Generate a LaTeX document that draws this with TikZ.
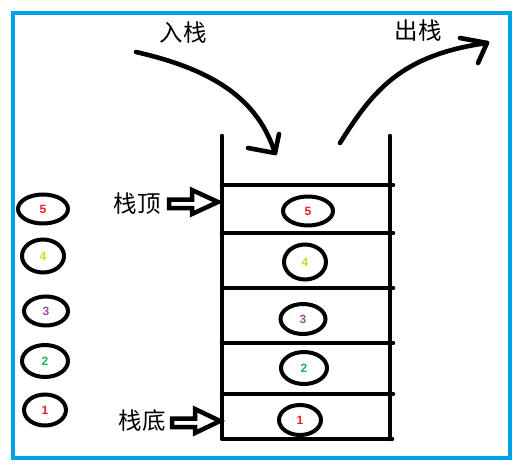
\documentclass[tikz,border=0pt]{standalone}
\usetikzlibrary{shapes.geometric}
\usepackage{fontspec}
\newfontfamily\cjk{Noto Sans CJK SC}
\setmainfont{Liberation Sans}
\definecolor{frameblue}{RGB}{0,162,232}
\definecolor{cred}{RGB}{237,28,36}
\definecolor{cyel}{RGB}{181,230,29}
\definecolor{cpur}{RGB}{163,73,164}
\definecolor{cgrn}{RGB}{34,177,76}
\begin{document}
\begin{tikzpicture}[x=1pt,y=-1pt,
  thk/.style={line width=4.6pt,line cap=round,line join=round},
  ball/.style={draw,line width=4pt,ellipse,inner sep=0pt,font=\bfseries\fontsize{12}{12}\selectfont},
  lbl/.style={font=\cjk\fontsize{23.5}{23.5}\selectfont,inner sep=0pt},
  blk/.style={draw,line width=4.5pt,line join=miter,fill=white}]
\useasboundingbox (0,0) rectangle (524,473);
\draw[frameblue,line width=4pt] (13,13) rectangle (510,458);
% stack
\coordinate (tl) at (222,136); \coordinate (tr) at (390,136);
\coordinate (bl) at (222,439); \coordinate (br) at (392,439);
\draw[thk] (tl) -- (bl) -- (br);
\draw[thk] (tr) -- (390,439);
\foreach \y in {185,233,288,343,394}{\draw[thk] (222,\y) -- (393,\y);}
% stack balls
\node[ball,minimum width=50,minimum height=29,text=cred] (s5) at (308,211) {5};
\node[ball,minimum width=42,minimum height=35,text=cyel] (s4) at (305,262) {4};
\node[ball,minimum width=45,minimum height=30,text=cpur] (s3) at (303,319) {3};
\node[ball,minimum width=46,minimum height=32,text=cgrn] (s2) at (304,368) {2};
\node[ball,minimum width=42,minimum height=30,text=cred] (s1) at (300,420) {1};
% left balls
\node[ball,minimum width=50,minimum height=29,text=cred] (l5) at (43,209) {5};
\node[ball,minimum width=42,minimum height=33,text=cyel] (l4) at (43,256) {4};
\node[ball,minimum width=44,minimum height=29,text=cpur] (l3) at (46,311) {3};
\node[ball,minimum width=46,minimum height=32,text=cgrn] (l2) at (45,361) {2};
\node[ball,minimum width=42,minimum height=31,text=cred] (l1) at (45,410) {1};
% labels
\node[lbl] (in) at (183,33) {入栈};
\node[lbl] (out) at (418,31) {出栈};
\node[lbl] (top) at (137,204) {栈顶};
\node[lbl] (bot) at (142,421) {栈底};
% block arrows
\draw[blk] (169,199.5) -- (192,199.5) -- (192,190) -- (218,202) -- (192,214) -- (192,208) -- (169,208) -- cycle;
\draw[blk] (172,418.5) -- (195,418.5) -- (195,409) -- (220,421) -- (195,433) -- (195,427) -- (172,427) -- cycle;
% curved arrows
\coordinate (a1) at (136,52); \coordinate (a2) at (275,153);
\draw[thk] (a1) .. controls (215,70) and (258,100) .. (a2);
\draw[thk] (248,148) -- (a2) -- (279,134);
\coordinate (b1) at (340,143); \coordinate (b2) at (487,43);
\draw[thk] (b1) .. controls (372,92) and (400,55) .. (b2);
\draw[thk] (460,38) -- (b2) -- (478,63);
\end{tikzpicture}
\end{document}
